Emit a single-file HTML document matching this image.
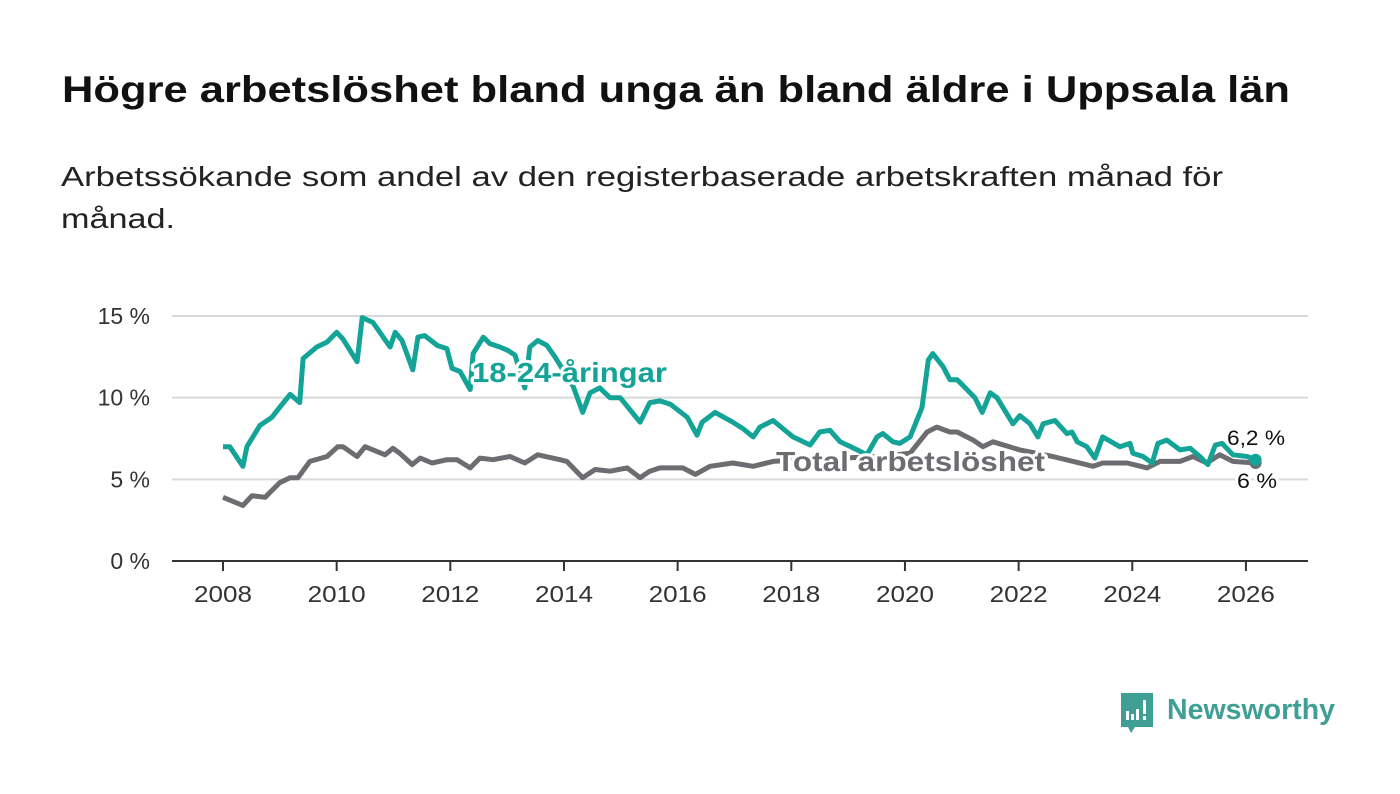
<!DOCTYPE html>
<html><head><meta charset="utf-8">
<style>
html,body{margin:0;padding:0;background:#fff;}
svg{display:block;font-family:"Liberation Sans","Noto Sans CJK SC",sans-serif;}
</style></head>
<body>
<svg id="chart" width="1400" height="794" viewBox="0 0 1400 794">
<text x="62" y="102" font-size="37" font-weight="bold" fill="#111" textLength="1228" lengthAdjust="spacingAndGlyphs">Högre arbetslöshet bland unga än bland äldre i Uppsala län</text>
<text x="61" y="186" font-size="28" fill="#222" textLength="1162" lengthAdjust="spacingAndGlyphs">Arbetssökande som andel av den registerbaserade arbetskraften månad för</text>
<text x="61" y="228" font-size="28" fill="#222" textLength="114" lengthAdjust="spacingAndGlyphs">månad.</text>
<g id="grid"></g>
<g id="xaxis"></g>
<g id="series"></g>
<g id="labels"></g>
<g>
<path d="M1121 693 h32 v34 h-18 l-4 6 l-3 -6 h-7 z" fill="#3f9f95"/>
<rect x="1126" y="711" width="3" height="9" fill="#fff"/>
<rect x="1131" y="714" width="3" height="6" fill="#fff"/>
<rect x="1136" y="709" width="3" height="11" fill="#fff"/>
<rect x="1143" y="700" width="3" height="14" fill="#fff"/>
<rect x="1143" y="716" width="3" height="4" fill="#fff"/>
<text x="1167" y="719" font-size="29" font-weight="bold" fill="#3f9f95" textLength="168" lengthAdjust="spacingAndGlyphs">Newsworthy</text>
</g>
</svg>
<script>
const yTicks = [0, 5, 10, 15];
const yTickLabels = ["0 %", "5 %", "10 %", "15 %"];
const xTicks = [2008, 2010, 2012, 2014, 2016, 2018, 2020, 2022, 2024, 2026];
const youngDates = [2008.0,2008.12,2008.35,2008.42,2008.65,2008.86,2008.95,2009.18,2009.35,2009.41,2009.65,2009.83,2010.0,2010.11,2010.36,2010.45,2010.64,2010.94,2011.03,2011.15,2011.34,2011.43,2011.55,2011.77,2011.94,2012.03,2012.17,2012.35,2012.4,2012.58,2012.7,2012.87,2013.01,2013.14,2013.31,2013.4,2013.54,2013.7,2013.84,2014.16,2014.33,2014.46,2014.63,2014.81,2014.99,2015.34,2015.51,2015.69,2015.87,2016.17,2016.34,2016.43,2016.66,2016.97,2017.15,2017.33,2017.45,2017.68,2018.03,2018.33,2018.5,2018.68,2018.86,2019.16,2019.33,2019.51,2019.61,2019.79,2019.91,2020.09,2020.3,2020.41,2020.49,2020.67,2020.79,2020.92,2021.09,2021.23,2021.36,2021.5,2021.62,2021.9,2022.02,2022.2,2022.34,2022.43,2022.64,2022.85,2022.94,2023.03,2023.2,2023.34,2023.48,2023.78,2023.96,2024.01,2024.19,2024.35,2024.45,2024.61,2024.84,2025.02,2025.19,2025.33,2025.46,2025.58,2025.77,2026.02,2026.17];
const youngValues = [7.0,7.0,5.8,7.0,8.3,8.8,9.2,10.2,9.7,12.4,13.1,13.4,14.0,13.6,12.2,14.9,14.6,13.1,14.0,13.5,11.7,13.7,13.8,13.2,13.0,11.8,11.6,10.5,12.7,13.7,13.3,13.1,12.9,12.6,10.6,13.1,13.5,13.2,12.5,10.7,9.1,10.3,10.6,10.0,10.0,8.5,9.7,9.8,9.6,8.8,7.7,8.5,9.1,8.5,8.1,7.6,8.2,8.6,7.6,7.1,7.9,8.0,7.3,6.8,6.5,7.6,7.8,7.3,7.2,7.6,9.4,12.3,12.7,11.9,11.1,11.1,10.5,10.0,9.1,10.3,10.0,8.4,8.9,8.4,7.6,8.4,8.6,7.8,7.9,7.3,7.0,6.3,7.6,7.0,7.2,6.6,6.4,6.0,7.2,7.4,6.8,6.9,6.4,5.9,7.1,7.2,6.5,6.4,6.2];
const totalDates = [2008.0,2008.35,2008.51,2008.74,2009.0,2009.18,2009.32,2009.53,2009.83,2010.02,2010.11,2010.36,2010.5,2010.85,2010.99,2011.11,2011.33,2011.47,2011.68,2011.94,2012.12,2012.35,2012.52,2012.75,2013.05,2013.31,2013.54,2013.93,2014.05,2014.33,2014.55,2014.81,2015.11,2015.34,2015.51,2015.69,2016.09,2016.31,2016.57,2016.97,2017.33,2017.68,2018.15,2018.86,2019.56,2020.09,2020.39,2020.56,2020.79,2020.92,2021.2,2021.37,2021.55,2022.02,2022.6,2022.96,2023.31,2023.48,2023.91,2024.26,2024.49,2024.84,2025.07,2025.31,2025.54,2025.77,2026.17];
const totalValues = [3.9,3.4,4.0,3.9,4.8,5.1,5.1,6.1,6.4,7.0,7.0,6.4,7.0,6.5,6.9,6.6,5.9,6.3,6.0,6.2,6.2,5.7,6.3,6.2,6.4,6.0,6.5,6.2,6.1,5.1,5.6,5.5,5.7,5.1,5.5,5.7,5.7,5.3,5.8,6.0,5.8,6.1,6.2,6.3,6.4,6.6,7.9,8.2,7.9,7.9,7.4,7.0,7.3,6.8,6.4,6.1,5.8,6.0,6.0,5.7,6.1,6.1,6.4,6.0,6.5,6.1,6.0];
const endLabels = ["6,2 %", "6 %"];

const NS = "http://www.w3.org/2000/svg";
const X0 = 172, X1 = 1308, Y0 = 561;
function xScale(d){ return 223 + (d - 2008) * 56.83; }
function yScale(v){ return Y0 - v * 16.333; }
function mk(tag, attrs, parent){ const e = document.createElementNS(NS, tag); for (const k in attrs) e.setAttribute(k, attrs[k]); parent.appendChild(e); return e; }

const grid = document.getElementById('grid');
yTicks.forEach((t, i) => {
  if (t > 0) {
    const l = mk('line', {x1: X0, x2: X1, y1: yScale(t), y2: yScale(t), stroke: '#d9d9d9', 'stroke-width': 2}, grid);
    
    
  }
  const tx = mk('text', {x: 150, y: yScale(t) + 8, 'text-anchor': 'end', 'font-size': 23, fill: '#333'}, grid);
  tx.textContent = yTickLabels[i];
  
  
});
const xa = document.getElementById('xaxis');
const axl = mk('line', {x1: X0, x2: X1, y1: Y0, y2: Y0, stroke: '#333', 'stroke-width': 2}, xa);


xTicks.forEach(t => {
  const tk = mk('line', {x1: xScale(t), x2: xScale(t), y1: Y0, y2: Y0 + 10, stroke: '#333', 'stroke-width': 2}, xa);
  
  
  const tx = mk('text', {x: xScale(t), y: 602, 'text-anchor': 'middle', 'font-size': 23, fill: '#333', textLength: 58, lengthAdjust: 'spacingAndGlyphs'}, xa);
  tx.textContent = t;
  
  
});

const ser = document.getElementById('series');
function line(dates, vals, color, name){
  const d = dates.map((x, i) => (i ? 'L' : 'M') + xScale(x).toFixed(1) + ' ' + yScale(vals[i]).toFixed(1)).join(' ');
  const p = mk('path', {d: d, fill: 'none', stroke: color, 'stroke-width': 5, 'stroke-linejoin': 'round'}, ser);
  
  
  const n = dates.length - 1;
  const c = mk('circle', {cx: xScale(dates[n]), cy: yScale(vals[n]), r: 6, fill: color}, ser);
  
  
}
line(totalDates, totalValues, '#6d6c70', 'total-line');
line(youngDates, youngValues, '#13a497', 'youth-line');

const lb = document.getElementById('labels');
function label(x, y, txt, size, weight, color, name, w){
  const t = mk('text', {x: x, y: y, 'font-size': size, 'font-weight': weight, fill: color, stroke: '#fff', 'stroke-width': 6, 'paint-order': 'stroke', 'stroke-linejoin': 'round', textLength: w, lengthAdjust: 'spacingAndGlyphs'}, lb);
  t.textContent = txt;
  
  
}
label(472, 382, '18-24-åringar', 28, 'bold', '#13a497', 'youth-series-label', 195);
label(776, 471, 'Total arbetslöshet', 28, 'bold', '#6d6c70', 'total-series-label', 269);
label(1227, 445, endLabels[0], 21, 'normal', '#111', 'youth-end-value', 58);
label(1237, 488, endLabels[1], 21, 'normal', '#111', 'total-end-value', 40);
</script>
</body></html>
